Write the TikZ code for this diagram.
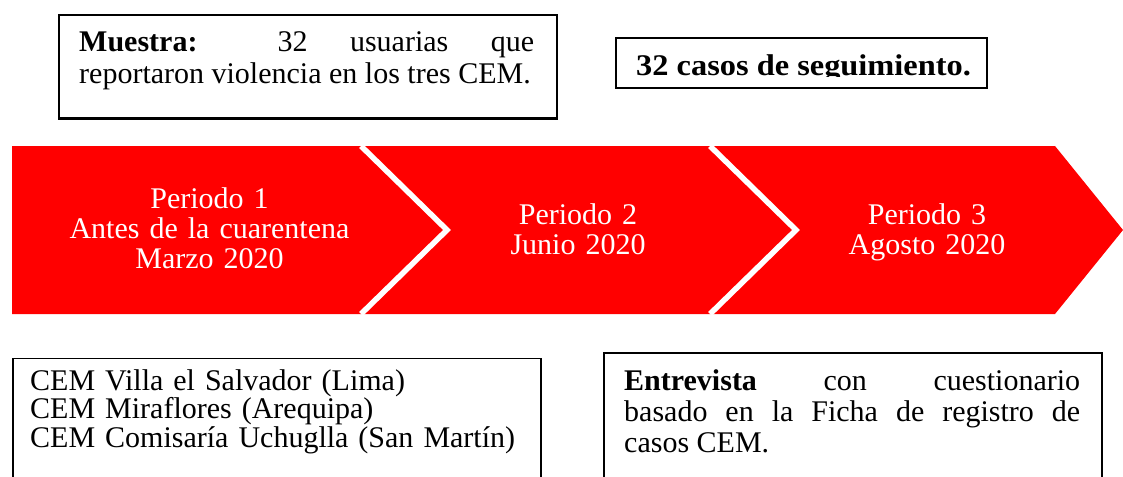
\documentclass[tikz,border=0pt]{standalone}
\usepackage{fontspec}
\setmainfont{Liberation Serif}
\newfontfamily\casosfont{Liberation Serif}[FakeStretch=1.08]
\begin{document}
\begin{tikzpicture}[x=1pt,y=-1pt,
  frame/.style={draw=black, line width=2pt, inner sep=0pt, anchor=north west},
  txt/.style={inner sep=0pt, font=\fontsize{30pt}{30pt}\selectfont},
  listtxt/.style={inner sep=0pt, font=\fontsize{30pt}{28.5pt}\selectfont},
  widetxt/.style={inner sep=0pt, font=\fontsize{30pt}{32pt}\selectfont},
  entxt/.style={inner sep=0pt, font=\fontsize{30pt}{31pt}\selectfont},
  bandtxt/.style={txt, text=white, text width=320pt, align=center, anchor=base},
  joint/.style={draw=white, line width=5.5pt}]
\clip (0,0) rectangle (1123,476);
\fill[white] (0,0) rectangle (1123,476);
% top boxes
\node[frame, minimum width=498.5pt, minimum height=103pt] (muestrabox) at (57.5,14.5) {};
\node[widetxt, text width=455pt, align=justify, anchor=base west] (muestra) at (79,52)
  {\textbf{Muestra:} 32 usuarias que\linebreak reportaron violencia en los tres CEM.};
\node[frame, minimum width=371pt, minimum height=50pt] (casosbox) at (614.5,37.5) {};
\begin{scope}
\clip (614,38) rectangle (986,76.5);
\node[txt, font=\fontsize{30pt}{32pt}\casosfont\bfseries, anchor=base west] (casos) at (636,76) {32 casos de seguimiento.};
\end{scope}
% band
\fill[red] (12,146) coordinate (b1) -- (1055,146) coordinate (b2) -- (1123,230) coordinate (tip)
  -- (1055,314) coordinate (b3) -- (12,314) coordinate (b4) -- cycle;
\coordinate (j1a) at (361,146); \coordinate (j1b) at (447,230); \coordinate (j1c) at (361,314);
\coordinate (j2a) at (710,146); \coordinate (j2b) at (796,230); \coordinate (j2c) at (710,314);
\draw[joint] (j1a) -- (j1b) -- (j1c);
\draw[joint] (j2a) -- (j2b) -- (j2c);
\node[bandtxt] (p1) at (209.5,208.5) {Periodo 1\\Antes de la cuarentena\\Marzo 2020};
\node[bandtxt] (p2) at (578,224) {Periodo 2\\Junio 2020};
\node[bandtxt] (p3) at (927,224) {Periodo 3\\Agosto 2020};
% bottom boxes
\node[frame, line width=1.5pt, minimum width=528pt, minimum height=160pt] (cembox) at (12,357.5) {};
\node[listtxt, text width=500pt, align=left, anchor=base west] (cem) at (30,390)
  {CEM Villa el Salvador (Lima)\\CEM Miraflores (Arequipa)\\CEM Comisaría Uchuglla (San Martín)};
\node[frame, line width=1.5pt, minimum width=498pt, minimum height=160pt] (entbox) at (603,352) {};
\node[entxt, text width=456pt, align=justify, anchor=base west] (ent) at (624,390)
  {\textbf{Entrevista} con cuestionario\linebreak basado en la Ficha de registro de\linebreak casos CEM.};
\end{tikzpicture}
\end{document}
